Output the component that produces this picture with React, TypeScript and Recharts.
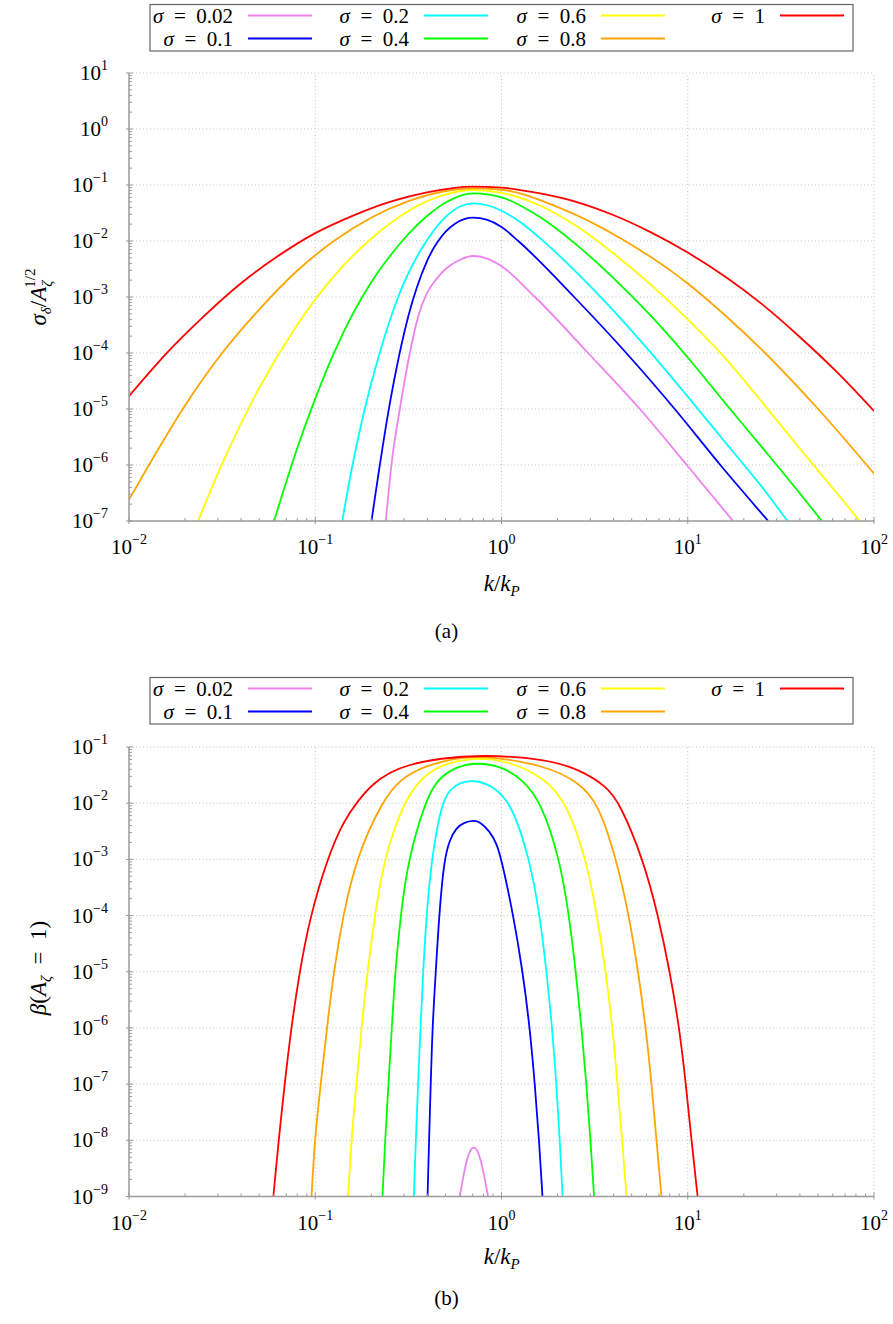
import { LineChart, Line, XAxis, YAxis, ReferenceLine, Legend } from 'recharts';

const sigmaLabels = ['0.02', '0.1', '0.2', '0.4', '0.6', '0.8', '1'];
const lineColors = ['#ee82ee', '#0000ff', '#00ffff', '#00ff00', '#ffff00', '#ffa500', '#ff0000'];

// points read off the figure as decades: [log10(k/kP), log10(value)]
// panel (a): sigma_delta / A_zeta^(1/2)
const violetA = [[-0.621, -7], [-0.591, -6], [-0.546, -5], [-0.492, -4], [-0.45, -3.38], [-0.403, -2.95], [-0.35, -2.68], [-0.3, -2.5], [-0.22, -2.33], [-0.152, -2.268], [-0.08, -2.31], [0, -2.45], [0.18, -3], [0.465, -4], [0.743, -5], [0.995, -6], [1.243, -7]];
const blueA = [[-0.698, -7], [-0.6, -4.91], [-0.5, -3.34], [-0.4, -2.36], [-0.3, -1.834], [-0.25, -1.69], [-0.2, -1.609], [-0.152, -1.584], [-0.08, -1.62], [0, -1.75], [0.09, -2], [0.39, -3], [0.67, -4], [0.93, -5], [1.175, -6], [1.432, -7]];
const cyanA = [[-0.855, -7], [-0.8, -6], [-0.734, -5], [-0.654, -4], [-0.555, -3], [-0.403, -2], [-0.3, -1.568], [-0.22, -1.38], [-0.152, -1.327], [-0.07, -1.366], [0, -1.46], [0.1, -1.66], [0.2, -1.93], [0.4, -2.55], [0.6, -3.24], [0.8, -3.99], [1, -4.78], [1.2, -5.59], [1.4, -6.4], [1.535, -7]];
const greenA = [[-1.221, -7], [-1.1, -5.731], [-1, -4.815], [-0.9, -4.001], [-0.8, -3.31], [-0.7, -2.74], [-0.6, -2.272], [-0.5, -1.875], [-0.4, -1.554], [-0.3, -1.312], [-0.152, -1.148], [0, -1.22], [0.2, -1.56], [0.4, -2.06], [0.6, -2.66], [0.8, -3.33], [1, -4.08], [1.2, -4.89], [1.4, -5.69], [1.6, -6.5], [1.72, -7]];
const yellowA = [[-1.629, -7], [-1.5, -5.977], [-1.3, -4.621], [-1.1, -3.515], [-0.9, -2.628], [-0.7, -1.96], [-0.5, -1.464], [-0.3, -1.168], [-0.152, -1.089], [0, -1.14], [0.2, -1.357], [0.4, -1.729], [0.6, -2.22], [0.8, -2.775], [1, -3.398], [1.2, -4.087], [1.4, -4.88], [1.6, -5.7], [1.8, -6.5], [1.924, -7]];
const orangeA = [[-2, -6.62], [-1.9, -6.04], [-1.7, -4.94], [-1.5, -4], [-1.3, -3.22], [-1.1, -2.54], [-0.9, -2], [-0.7, -1.584], [-0.5, -1.289], [-0.3, -1.107], [-0.152, -1.059], [0, -1.085], [0.3, -1.39], [0.65, -1.972], [1, -2.758], [1.2, -3.326], [1.4, -3.95], [1.7, -5], [2, -6.153]];
const redA = [[-2, -4.77], [-1.8, -4.01], [-1.6, -3.35], [-1.4, -2.76], [-1.2, -2.27], [-1, -1.86], [-0.8, -1.55], [-0.6, -1.3], [-0.4, -1.13], [-0.15, -1.03], [0, -1.048], [0.2, -1.146], [0.4, -1.3], [0.6, -1.536], [0.8, -1.842], [1, -2.207], [1.2, -2.634], [1.4, -3.132], [1.6, -3.71], [1.8, -4.338], [2, -5.036]];

// panel (b): beta(A_zeta = 1)
const violetB = [[-0.224, -9], [-0.195, -8.45], [-0.17, -8.17], [-0.149, -8.11], [-0.128, -8.17], [-0.103, -8.45], [-0.072, -9]];
const blueB = [[-0.397, -9], [-0.389, -8], [-0.38, -7], [-0.371, -6], [-0.353, -5], [-0.335, -4], [-0.308, -3], [-0.278, -2.65], [-0.243, -2.44], [-0.2, -2.34], [-0.15, -2.307], [-0.117, -2.324], [-0.063, -2.5], [-0.027, -2.71], [0, -3], [0.064, -4], [0.114, -5], [0.152, -6], [0.179, -7], [0.202, -8], [0.22, -9]];
const cyanB = [[-0.471, -9], [-0.46, -8], [-0.448, -7], [-0.435, -6], [-0.421, -5], [-0.403, -4], [-0.376, -3], [-0.322, -2], [-0.278, -1.76], [-0.224, -1.63], [-0.143, -1.582], [-0.045, -1.7], [0.054, -2], [0.152, -3], [0.206, -4], [0.242, -5], [0.272, -6], [0.295, -7], [0.313, -8], [0.328, -9]];
const greenB = [[-0.639, -9], [-0.625, -8], [-0.607, -7], [-0.589, -6], [-0.571, -5], [-0.542, -4], [-0.501, -3], [-0.412, -2], [-0.349, -1.582], [-0.242, -1.345], [-0.13, -1.274], [0, -1.345], [0.116, -1.582], [0.215, -2], [0.313, -3], [0.363, -4], [0.399, -5], [0.43, -6], [0.456, -7], [0.478, -8], [0.497, -9]];
const yellowB = [[-0.824, -9], [-0.806, -8], [-0.779, -7], [-0.752, -6], [-0.72, -5], [-0.68, -4], [-0.632, -3], [-0.528, -2], [-0.439, -1.582], [-0.331, -1.315], [-0.152, -1.18], [0.05, -1.25], [0.242, -1.582], [0.349, -2], [0.456, -3], [0.513, -4], [0.56, -5], [0.596, -6], [0.623, -7], [0.648, -8], [0.671, -9]];
const orangeB = [[-1.02, -9], [-1.003, -8], [-0.971, -7], [-0.937, -6], [-0.901, -5], [-0.851, -4], [-0.776, -2.93], [-0.636, -1.94], [-0.546, -1.582], [-0.421, -1.345], [-0.242, -1.196], [-0.1, -1.15], [0.242, -1.33], [0.42, -1.64], [0.519, -2], [0.617, -3], [0.685, -4], [0.734, -5], [0.775, -6], [0.806, -7], [0.832, -8], [0.859, -9]];
const redB = [[-1.225, -9], [-1.198, -8.05], [-1.166, -7.05], [-1.133, -6.1], [-1.087, -5.05], [-1.03, -4.05], [-0.937, -3], [-0.85, -2.33], [-0.77, -1.95], [-0.69, -1.65], [-0.6, -1.45], [-0.51, -1.325], [-0.331, -1.198], [-0.1, -1.137], [0.242, -1.214], [0.42, -1.404], [0.564, -1.7], [0.635, -2], [0.761, -3], [0.841, -4], [0.904, -5], [0.955, -6], [0.99, -7], [1.02, -8], [1.053, -9]];

const panelA = [violetA, blueA, cyanA, greenA, yellowA, orangeA, redA];
const panelB = [violetB, blueB, cyanB, greenB, yellowB, orangeB, redB];

const xMajor = [0.01, 0.1, 1, 10, 100];
const yMajorA = [1e-7, 1e-6, 1e-5, 1e-4, 1e-3, 1e-2, 1e-1, 1, 10];
const yMajorB = [1e-9, 1e-8, 1e-7, 1e-6, 1e-5, 1e-4, 1e-3, 1e-2, 1e-1];
const minorSteps = [2, 3, 4, 5, 6, 7, 8, 9];

const legendTextRight = [233, 409, 586, 765];

const FONT = "'Liberation Serif', 'DejaVu Serif', serif";
const serif = { fontFamily: FONT };
const AXIS = '#9a9a9a';
const GRID = '#c2c2c2';

const toPoints = (pts: number[][]) => pts.map(([lk, lv]) => ({ k: 10 ** lk, v: 10 ** lv }));

const withMinor = (majors: number[]) =>
  [...majors, ...majors.slice(0, -1).flatMap((m) => minorSteps.map((s) => m * s))].sort((a, b) => a - b);

const exponent = (v: number) => {
  const e = Math.round(Math.log10(v));
  return e < 0 ? `\u2212${-e}` : `${e}`;
};

const PowerLabel = ({ x, y, v, anchor }: { x: number; y: number; v: number; anchor: 'end' | 'middle' }) => (
  <text x={x} y={y} textAnchor={anchor} style={serif} fontSize={21} fill="#000">
    10
    <tspan dy={-10} fontSize={14}>
      {exponent(v)}
    </tspan>
  </text>
);

const makeYTick = (majors: number[]) => (props: any) => {
  const { x, y, payload } = props;
  const v = payload.value;
  if (!majors.includes(v)) return <line x1={x} x2={x + 3} y1={y} y2={y} stroke={AXIS} />;
  return (
    <g>
      <line x1={x - 3} x2={x + 4} y1={y} y2={y} stroke={AXIS} />
      <PowerLabel x={x - 21} y={y + 7} v={v} anchor="end" />
    </g>
  );
};

const XTick = (props: any) => {
  const { x, y, payload } = props;
  const v = payload.value;
  if (!xMajor.includes(v)) return <line x1={x} x2={x} y1={y} y2={y - 3} stroke={AXIS} />;
  return (
    <g>
      <line x1={x} x2={x} y1={y + 3} y2={y - 4} stroke={AXIS} />
      <PowerLabel x={x} y={y + 33} v={v} anchor="middle" />
    </g>
  );
};

const LegendBox = (_props: any) => (
  <svg width={893} height={50} style={{ display: 'block', overflow: 'visible' }}>
    <rect x={150} y={0.5} width={703} height={46.5} fill="#fff" stroke="#666" strokeWidth={1.2} />
    {sigmaLabels.map((s, i) => {
      const col = Math.floor(i / 2);
      const cy = 11.5 + (i % 2) * 23;
      const tx = legendTextRight[col];
      return (
        <g key={s}>
          <text x={tx} y={cy + 7} textAnchor="end" style={serif} fontSize={21} fill="#000">
            <tspan fontStyle="italic">σ</tspan>
            {'\u2002=\u2002' + s}
          </text>
          <line x1={tx + 15} x2={tx + 79} y1={cy} y2={cy} stroke={lineColors[i]} strokeWidth={2} />
        </g>
      );
    })}
  </svg>
);

const xTitle = (baseline: number, caption: string, captionBaseline: number) => () => (
  <g style={serif} fill="#000">
    <text x={501.7} y={baseline} textAnchor="middle" style={serif} fontSize={23}>
      <tspan fontStyle="italic">k</tspan>/<tspan fontStyle="italic">k</tspan>
      <tspan dy={5} fontSize={15} fontStyle="italic">P</tspan>
    </text>
    <text x={446.5} y={captionBaseline} textAnchor="middle" style={serif} fontSize={21}>
      {caption}
    </text>
  </g>
);

const yTitleA = () => (
  <text transform="rotate(-90 46 297)" x={46} y={297} textAnchor="middle" style={serif} fontSize={23} fontStyle="italic" fill="#000">
    σ<tspan dy={5} fontSize={15}>δ</tspan>
    <tspan dy={-5} fontStyle="normal">/</tspan>A<tspan dy={6} fontSize={15}>ζ</tspan>
    <tspan dx={-7} dy={-17} fontSize={15} fontStyle="normal">1/2</tspan>
  </text>
);

const yTitleB = () => (
  <text transform="rotate(-90 46 308)" x={46} y={308} textAnchor="middle" style={serif} fontSize={23} fontStyle="italic" fill="#000">
    β<tspan fontStyle="normal">(</tspan>A<tspan dy={5} fontSize={15}>ζ</tspan>
    <tspan dy={-5} fontStyle="normal">{'\u2002=\u20021)'}</tspan>
  </text>
);

interface PanelProps {
  series: number[][][];
  curve: 'monotone' | 'basis';
  yMajor: number[];
  height: number;
  plotTop: number;
  plotHeight: number;
  legendTop: number;
  yTitle: () => JSX.Element;
  xLabel: () => JSX.Element;
}

const Panel = ({ series, curve, yMajor, height, plotTop, plotHeight, legendTop, yTitle, xLabel }: PanelProps) => (
  <LineChart
    width={893}
    height={height}
    margin={{ top: plotTop, right: 19, bottom: height - plotTop - plotHeight - 30, left: 0 }}
  >
    <XAxis
      dataKey="k"
      type="number"
      scale="log"
      domain={[0.01, 100]}
      allowDataOverflow
      ticks={withMinor(xMajor)}
      interval={0}
      tick={XTick}
      tickLine={false}
      tickSize={0}
      tickMargin={0}
      height={30}
      axisLine={{ stroke: AXIS, strokeWidth: 1.5 }}
      label={{ content: xLabel }}
    />
    <YAxis
      type="number"
      scale="log"
      domain={[yMajor[0], yMajor[yMajor.length - 1]]}
      allowDataOverflow
      ticks={withMinor(yMajor)}
      interval={0}
      tick={makeYTick(yMajor)}
      tickLine={false}
      tickSize={0}
      tickMargin={0}
      width={129}
      axisLine={{ stroke: AXIS, strokeWidth: 1.5 }}
      label={{ content: yTitle }}
    />
    {yMajor.slice(1).map((v) => (
      <ReferenceLine key={`y${v}`} y={v} stroke={GRID} strokeDasharray="1 2.5" />
    ))}
    {xMajor.slice(1).map((v) => (
      <ReferenceLine key={`x${v}`} x={v} stroke={GRID} strokeDasharray="1 2.5" />
    ))}
    {series.map((pts, i) => (
      <Line
        key={sigmaLabels[i]}
        name={`σ = ${sigmaLabels[i]}`}
        data={toPoints(pts)}
        dataKey="v"
        type={curve}
        stroke={lineColors[i]}
        strokeWidth={1.8}
        dot={false}
        activeDot={false}
        isAnimationActive={false}
      />
    ))}
    <Legend
      layout="horizontal"
      verticalAlign="middle"
      align="center"
      content={<LegendBox />}
      wrapperStyle={{ top: legendTop, left: 0, width: 893, height: 50 }}
    />
  </LineChart>
);

export default function App() {
  return (
    <div style={{ position: 'relative', width: 893, height: 1324, background: '#fff' }}>
      <style>{'body{margin:0}'}</style>
      <div style={{ position: 'absolute', top: 0, left: 0 }}>
        <Panel
          series={panelA}
          curve="monotone"
          yMajor={yMajorA}
          height={660}
          plotTop={73}
          plotHeight={448}
          legendTop={3.5}
          yTitle={yTitleA}
          xLabel={xTitle(591, '(a)', 638)}
        />
      </div>
      <div style={{ position: 'absolute', top: 660, left: 0 }}>
        <Panel
          series={panelB}
          curve="basis"
          yMajor={yMajorB}
          height={664}
          plotTop={87}
          plotHeight={449.5}
          legendTop={17}
          yTitle={yTitleB}
          xLabel={xTitle(604, '(b)', 645)}
        />
      </div>
    </div>
  );
}
